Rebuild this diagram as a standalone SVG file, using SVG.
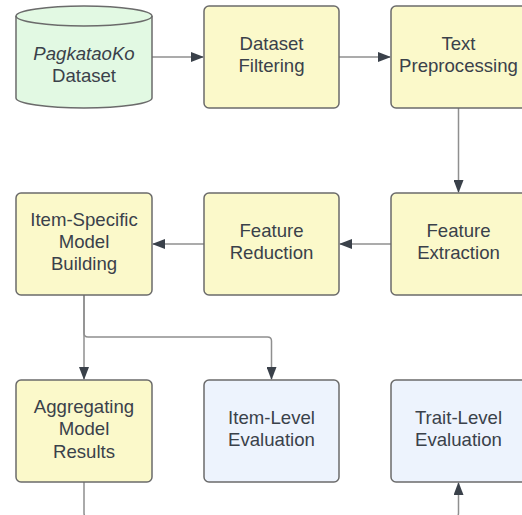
<svg xmlns="http://www.w3.org/2000/svg" width="522" height="515" viewBox="0 0 522 515">
<style>
.box{stroke:#6b6b6b;stroke-width:1.5}
.y{fill:#fbf9ca}
.g{fill:#e2f9e3}
.b{fill:#edf3fd}
text{font-family:"Liberation Sans",Arial,sans-serif;font-size:18.6px;fill:#3a414a;text-anchor:middle}
.c{fill:none;stroke:#8f8f8f;stroke-width:1.5}
</style>
<defs>
<marker id="ah" viewBox="0 0 13 10" refX="12" refY="5" markerWidth="13" markerHeight="10" orient="auto" markerUnits="userSpaceOnUse"><path d="M0 0L13 5L0 10z" fill="#3a414a"/></marker>
</defs>
<rect width="522" height="515" fill="#ffffff"/>
<g id="connectors">
<path class="c" d="M152 57H203" marker-end="url(#ah)"/>
<path class="c" d="M339 57H390" marker-end="url(#ah)"/>
<path class="c" d="M458.5 108V192" marker-end="url(#ah)"/>
<path class="c" d="M391 244H340" marker-end="url(#ah)"/>
<path class="c" d="M204 244H153" marker-end="url(#ah)"/>
<path class="c" d="M84 295V379" marker-end="url(#ah)"/>
<path class="c" d="M84 295V333Q84 337 88 337H267.5Q271.5 337 271.5 341V379" marker-end="url(#ah)"/>
<path class="c" d="M84 482V513Q84 518 89 518H453.5Q458.5 518 458.5 513V483" marker-end="url(#ah)"/>
</g>
<g id="dataset">
<path class="box g" d="M16 16A68 10 0 0 1 152 16V98A68 10 0 0 1 16 98Z"/>
<path class="box" fill="none" d="M16 16A68 10 0 0 0 152 16"/>
<text x="84" y="60" font-style="italic">PagkataoKo</text>
<text x="84" y="82">Dataset</text>
</g>
<g id="filtering">
<rect class="box y" x="204" y="6" width="135" height="102" rx="5"/>
<text x="271.5" y="50">Dataset</text>
<text x="271.5" y="72.4">Filtering</text>
</g>
<g id="preprocessing">
<rect class="box y" x="391" y="6" width="135" height="102" rx="5"/>
<text x="458.5" y="50">Text</text>
<text x="458.5" y="72.4">Preprocessing</text>
</g>
<g id="extraction">
<rect class="box y" x="391" y="193" width="135" height="102" rx="5"/>
<text x="458.5" y="237">Feature</text>
<text x="458.5" y="259.4">Extraction</text>
</g>
<g id="reduction">
<rect class="box y" x="204" y="193" width="135" height="102" rx="5"/>
<text x="271.5" y="237">Feature</text>
<text x="271.5" y="259.4">Reduction</text>
</g>
<g id="modelbuilding">
<rect class="box y" x="16" y="193" width="136" height="102" rx="5"/>
<text x="84" y="225.6">Item-Specific</text>
<text x="84" y="248">Model</text>
<text x="84" y="270.4">Building</text>
</g>
<g id="aggregating">
<rect class="box y" x="16" y="380" width="136" height="102" rx="5"/>
<text x="84" y="413">Aggregating</text>
<text x="84" y="435.4">Model</text>
<text x="84" y="457.8">Results</text>
</g>
<g id="itemlevel">
<rect class="box b" x="204" y="380" width="135" height="102" rx="5"/>
<text x="271.5" y="424">Item-Level</text>
<text x="271.5" y="446.4">Evaluation</text>
</g>
<g id="traitlevel">
<rect class="box b" x="391" y="380" width="135" height="102" rx="5"/>
<text x="458.5" y="423.5">Trait-Level</text>
<text x="458.5" y="445.9">Evaluation</text>
</g>
</svg>
